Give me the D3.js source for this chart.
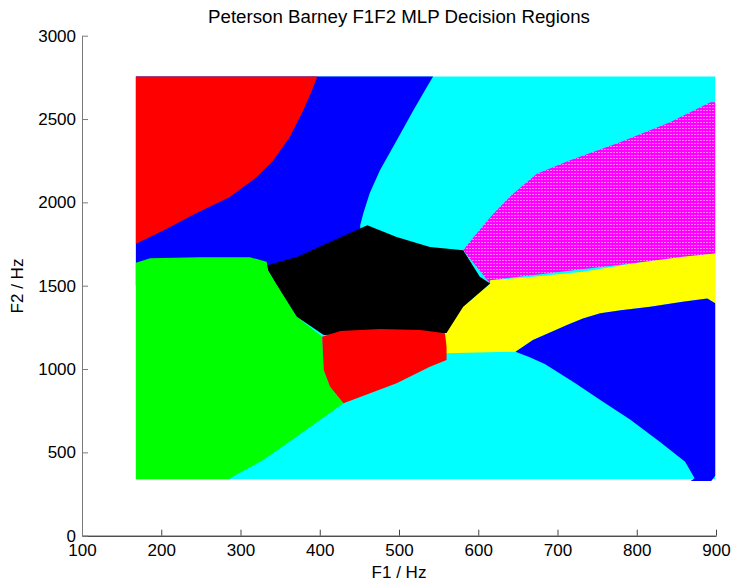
<!DOCTYPE html>
<html>
<head>
<meta charset="utf-8">
<script src="https://cdn.jsdelivr.net/npm/d3@7"></script>
<style>
  body { margin: 0; background: #fff; }
  text { font-family: "Liberation Sans", Arial, Helvetica, sans-serif; }
</style>
</head>
<body>
<svg id="chart" width="734" height="581"></svg>
<script>
// decision region outlines, [F1, F2] in Hz
// cyan is the leftover class, so the whole grid is filled cyan first
var gridBox = [[168,338],[899,338],[899,2755],[168,2755]];

var blueUpper = [[168,2755],[543,2755],[535,2690],[518,2551],[497,2371],[476,2192],[463,2054],
  [455,1934],[451,1862],[455,1500],[168,1500]];

var redUpper = [[168,2755],[397,2755],[390,2670],[379,2550],[362,2390],[341,2250],
  [320,2150],[286,2030],[244,1935],[202,1830],[168,1752]];

var magenta = [[581,1713],[586,1743],[598,1813],[619,1932],[644,2052],[674,2172],
  [716,2252],[779,2361],[842,2481],[893,2601],[899,2601],[899,1693],[615,1533],[615,1513]];

var yellow = [[558,1234],[581,1373],[615,1513],[615,1533],[669,1553],[732,1583],
  [795,1633],[858,1673],[899,1693],[899,1395],[889,1423],[858,1403],[817,1373],
  [780,1353],[754,1334],[732,1303],[712,1264],[669,1174],[647,1104],[558,1094]];

var blueLower = [[647,1104],[669,1174],[712,1264],[732,1303],[754,1334],[780,1353],
  [817,1373],[858,1403],[889,1423],[899,1395],[899,360],[894,328],[868,328],[873,344],
  [861,443],[829,563],[792,695],[754,814],[722,916],[684,1030],[665,1070]];

var green = [[168,1637],[186,1665],[249,1671],[312,1671],[333,1643],[335,1593],
  [350,1473],[371,1313],[403,1193],[405,994],[413,894],[430,795],[371,595],
  [329,455],[287,346],[287,338],[168,338]];

var black = [[334,1623],[371,1672],[413,1762],[460,1862],[497,1792],[539,1732],
  [581,1713],[602,1553],[615,1513],[581,1373],[560,1216],[483,1216],[405,1204],
  [371,1313],[350,1473],[335,1593]];

var redMiddle = [[403,1193],[426,1228],[476,1240],[527,1234],[558,1214],[560,1134],
  [560,1054],[539,1014],[497,914],[430,795],[413,894],[405,994]];

var xTicks = [100,200,300,400,500,600,700,800,900];
var yTicks = [0,500,1000,1500,2000,2500,3000];

var svg = d3.select("#chart");

var x = d3.scaleLinear().domain([100, 900]).range([82, 716]);
var y = d3.scaleLinear().domain([0, 3000]).range([535.7, 35.7]);

// magenta in the original has a faint dotted look
var defs = svg.append("defs");
var pat = defs.append("pattern").attr("id", "magdots")
  .attr("width", 3).attr("height", 3).attr("patternUnits", "userSpaceOnUse");
pat.append("rect").attr("width", 3).attr("height", 3).attr("fill", "#ff00ff");
pat.append("rect").attr("x", 1).attr("y", 2).attr("width", 2).attr("height", 1).attr("fill", "#ff7cff");

var layers = [
  {pts: gridBox, fill: "#00ffff"},
  {pts: blueUpper, fill: "#0000ff"},
  {pts: redUpper, fill: "#ff0000"},
  {pts: magenta, fill: "url(#magdots)"},
  {pts: yellow, fill: "#ffff00"},
  {pts: blueLower, fill: "#0000ff"},
  {pts: green, fill: "#00ff00"},
  {pts: black, fill: "#000000"},
  {pts: redMiddle, fill: "#ff0000"}
];

var line = d3.line()
  .x(function(d) { return x(d[0]); })
  .y(function(d) { return y(d[1]); });

svg.append("g").selectAll("path")
  .data(layers)
  .enter().append("path")
  .attr("d", function(d) { return line(d.pts) + "Z"; })
  .attr("fill", function(d) { return d.fill; });

// axes, MATLAB style: ticks point inward, no box
var xAxis = svg.append("g")
  .attr("transform", "translate(0," + y(0) + ")")
  .call(d3.axisBottom(x).tickValues(xTicks).tickFormat(d3.format("d"))
    .tickSize(-6).tickSizeOuter(0).tickPadding(8));
xAxis.select(".domain").attr("stroke", "#000");
xAxis.selectAll(".tick line").attr("stroke", "#444");
xAxis.selectAll("text").attr("font-size", 17).attr("fill", "#000");

var yAxis = svg.append("g")
  .attr("transform", "translate(" + x(100) + ",0)")
  .call(d3.axisLeft(y).tickValues(yTicks).tickFormat(d3.format("d"))
    .tickSize(-6).tickSizeOuter(0).tickPadding(6));
yAxis.select(".domain").attr("stroke", "#7a7a7a");
yAxis.selectAll(".tick line").attr("stroke", "#7a7a7a");
yAxis.selectAll("text").attr("font-size", 17).attr("fill", "#000");

svg.append("text")
  .attr("x", 399).attr("y", 22.7)
  .attr("text-anchor", "middle")
  .attr("font-size", 18.7)
  .text("Peterson Barney F1F2 MLP Decision Regions");

svg.append("text")
  .attr("x", 399).attr("y", 577.5)
  .attr("text-anchor", "middle")
  .attr("font-size", 17)
  .text("F1 / Hz");

svg.append("text")
  .attr("transform", "translate(23,286) rotate(-90)")
  .attr("text-anchor", "middle")
  .attr("font-size", 17)
  .text("F2 / Hz");
</script>
</body>
</html>
